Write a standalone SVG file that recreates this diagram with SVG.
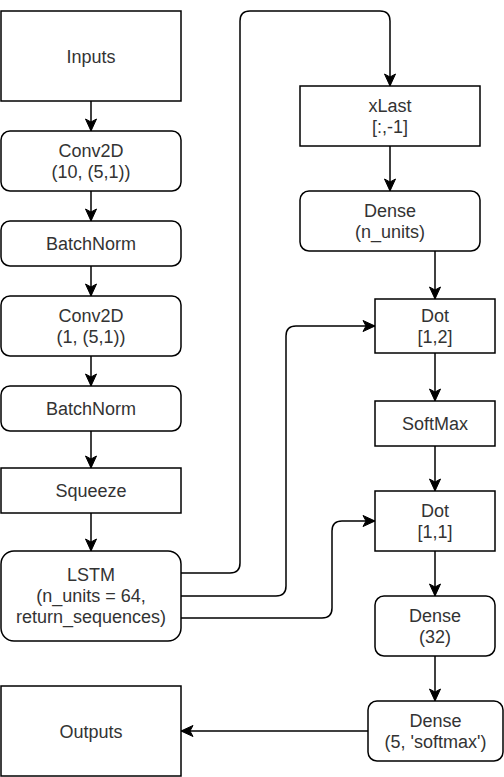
<svg xmlns="http://www.w3.org/2000/svg" width="504" height="777" viewBox="0 0 504 777">
  <defs>
    <style>
      .box { fill: #ffffff; stroke: #000000; stroke-width: 1.5; }
      .lbl { font-family: "Liberation Sans", Arial, Helvetica, sans-serif; font-size: 18px; fill: #333333; text-anchor: middle; }
      .edge { fill: none; stroke: #000000; stroke-width: 1.5; marker-end: url(#arrow); }
    </style>
    <marker id="arrow" markerUnits="userSpaceOnUse" markerWidth="16" markerHeight="16" viewBox="-14 -8 16 16" refX="0" refY="0" orient="auto">
      <path d="M-12,-5.5 L0,0 L-12,5.5 L-9,0 Z" fill="#000000" stroke="#000000" stroke-width="1"/>
    </marker>
  </defs>
  <rect width="504" height="777" fill="#ffffff"/>

  <g id="connectors">
    <path class="edge" d="M91,101 V131"/>
    <path class="edge" d="M91,191 V221"/>
    <path class="edge" d="M91,266 V296"/>
    <path class="edge" d="M91,356 V386"/>
    <path class="edge" d="M91,431 V468"/>
    <path class="edge" d="M91,513 V551"/>
    <path class="edge" d="M181,573 H230 Q240,573 240,563 V21 Q240,11 250,11 H380 Q390,11 390,21 V86"/>
    <path class="edge" d="M181,596 H276 Q286,596 286,586 V336 Q286,326 296,326 H375"/>
    <path class="edge" d="M181,618 H322 Q332,618 332,608 V531 Q332,521 342,521 H375"/>
    <path class="edge" d="M390,146 V191"/>
    <path class="edge" d="M435,251 V299"/>
    <path class="edge" d="M435,353 V401"/>
    <path class="edge" d="M435,446 V491"/>
    <path class="edge" d="M435,551 V596"/>
    <path class="edge" d="M435,656 V701"/>
    <path class="edge" d="M368,731 H181"/>
  </g>

  <g id="inputs">
    <rect class="box" x="1" y="11" width="180" height="90"/>
    <text class="lbl" x="91" y="62.5">Inputs</text>
  </g>
  <g id="conv2d-1">
    <rect class="box" x="1" y="131" width="180" height="60" rx="9"/>
    <text class="lbl" x="91" y="157">Conv2D</text>
    <text class="lbl" x="91" y="178">(10, (5,1))</text>
  </g>
  <g id="batchnorm-1">
    <rect class="box" x="1" y="221" width="180" height="45" rx="9"/>
    <text class="lbl" x="91" y="250">BatchNorm</text>
  </g>
  <g id="conv2d-2">
    <rect class="box" x="1" y="296" width="180" height="60" rx="9"/>
    <text class="lbl" x="91" y="322">Conv2D</text>
    <text class="lbl" x="91" y="343">(1, (5,1))</text>
  </g>
  <g id="batchnorm-2">
    <rect class="box" x="1" y="386" width="180" height="45" rx="9"/>
    <text class="lbl" x="91" y="415">BatchNorm</text>
  </g>
  <g id="squeeze">
    <rect class="box" x="1" y="468" width="180" height="45"/>
    <text class="lbl" x="91" y="497">Squeeze</text>
  </g>
  <g id="lstm">
    <rect class="box" x="1" y="551" width="180" height="90" rx="13"/>
    <text class="lbl" x="91" y="581">LSTM</text>
    <text class="lbl" x="91" y="602">(n_units = 64,</text>
    <text class="lbl" x="91" y="623">return_sequences)</text>
  </g>
  <g id="outputs">
    <rect class="box" x="1" y="686" width="180" height="90"/>
    <text class="lbl" x="91" y="737.5">Outputs</text>
  </g>

  <g id="xlast">
    <rect class="box" x="300" y="86" width="180" height="60"/>
    <text class="lbl" x="390" y="112">xLast</text>
    <text class="lbl" x="390" y="133">[:,-1]</text>
  </g>
  <g id="dense-nunits">
    <rect class="box" x="300" y="191" width="180" height="60" rx="9"/>
    <text class="lbl" x="390" y="217">Dense</text>
    <text class="lbl" x="390" y="238">(n_units)</text>
  </g>
  <g id="dot-12">
    <rect class="box" x="375" y="299" width="120" height="54"/>
    <text class="lbl" x="435" y="322">Dot</text>
    <text class="lbl" x="435" y="343">[1,2]</text>
  </g>
  <g id="softmax">
    <rect class="box" x="375" y="401" width="120" height="45"/>
    <text class="lbl" x="435" y="430">SoftMax</text>
  </g>
  <g id="dot-11">
    <rect class="box" x="375" y="491" width="120" height="60"/>
    <text class="lbl" x="435" y="517">Dot</text>
    <text class="lbl" x="435" y="538">[1,1]</text>
  </g>
  <g id="dense-32">
    <rect class="box" x="375" y="596" width="120" height="60" rx="9"/>
    <text class="lbl" x="435" y="622">Dense</text>
    <text class="lbl" x="435" y="643">(32)</text>
  </g>
  <g id="dense-softmax">
    <rect class="box" x="368" y="701" width="135" height="60" rx="9"/>
    <text class="lbl" x="435.5" y="727">Dense</text>
    <text class="lbl" x="435.5" y="748">(5, 'softmax')</text>
  </g>
</svg>
